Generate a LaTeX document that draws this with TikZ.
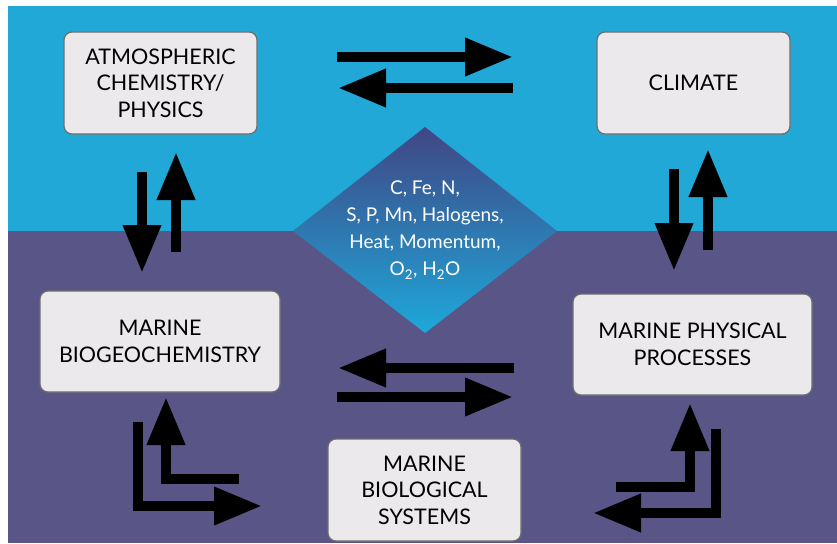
\documentclass[tikz,border=0pt]{standalone}
\usepackage{fontspec}
\setmainfont{Lato}
\usetikzlibrary{arrows.meta}
\definecolor{skyblue}{RGB}{33,168,214}
\definecolor{seapurple}{RGB}{89,86,135}
\definecolor{diamtop}{RGB}{64,70,132}
\definecolor{diambot}{RGB}{30,168,218}
\definecolor{boxfill}{RGB}{235,233,235}
\definecolor{boxline}{RGB}{110,110,110}
\tikzset{
  procbox/.style={draw=boxline, line width=1.2pt, fill=boxfill, rounded corners=8pt,
    align=center, inner sep=0pt, font=\fontsize{21.5}{26.5}\selectfont, text=black},
  bigarrow/.style={draw=black, line width=10pt, line join=miter,
    -{Triangle[length=48pt,width=36pt]}},
  flowtext/.style={align=center, text=white, font=\fontsize{19}{27}\selectfont}
}
\begin{document}
\begin{tikzpicture}[x=1pt,y=-1pt]
\useasboundingbox (0,0) rectangle (837,543);
\fill[white] (0,0) rectangle (837,543);
\fill[skyblue] (8,6) rectangle (837,231);
\fill[seapurple] (8,231) rectangle (837,543);
\shade[top color=diamtop, bottom color=diambot]
  (425,127) -- (557,231) -- (425,333) -- (293,231) -- cycle;
\node[flowtext] (flux) at (425,230) {C, Fe, N,\\S, P, Mn, Halogens,\\Heat, Momentum,\\O\textsubscript{2}, H\textsubscript{2}O};

\node[procbox, minimum width=193pt, minimum height=102pt] (atm) at (160.5,83) {ATMOSPHERIC\\CHEMISTRY/\\PHYSICS};
\node[procbox, minimum width=193pt, minimum height=102pt] (clim) at (693.5,83) {CLIMATE};
\node[procbox, minimum width=240pt, minimum height=101pt] (bgc) at (160,341.5) {MARINE\\BIOGEOCHEMISTRY};
\node[procbox, minimum width=239pt, minimum height=101pt] (phys) at (692.5,344.5) {MARINE PHYSICAL\\PROCESSES};
\node[procbox, minimum width=193pt, minimum height=102pt] (bio) at (424.5,490) {MARINE\\BIOLOGICAL\\SYSTEMS};

% arrow end points
\coordinate (ac1) at (337,57);  \coordinate (ca1) at (513,57);
\coordinate (ca2) at (513,88);  \coordinate (ac2) at (338,88);
\coordinate (ab1) at (142,172); \coordinate (ba1) at (142,273);
\coordinate (ba2) at (176,252); \coordinate (ab2) at (176,152);
\coordinate (cp1) at (674,169); \coordinate (pc1) at (674,271);
\coordinate (pc2) at (708,250); \coordinate (cp2) at (708,149);
\coordinate (pb1) at (514,368); \coordinate (bp1) at (338,368);
\coordinate (bp2) at (337,397); \coordinate (pb2) at (513,397);
\coordinate (bg1) at (138,422); \coordinate (bgk) at (138,506); \coordinate (bg2) at (262,506);
\coordinate (gb1) at (239,479); \coordinate (gbk) at (166,479); \coordinate (gb2) at (166,397);
\coordinate (pg1) at (716,429); \coordinate (pgk) at (716,513); \coordinate (pg2) at (593,513);
\coordinate (gp1) at (616,487); \coordinate (gpk) at (690,487); \coordinate (gp2) at (690,403);

\draw[bigarrow] (ac1) -- (ca1);
\draw[bigarrow] (ca2) -- (ac2);
\draw[bigarrow] (ab1) -- (ba1);
\draw[bigarrow] (ba2) -- (ab2);
\draw[bigarrow] (cp1) -- (pc1);
\draw[bigarrow] (pc2) -- (cp2);
\draw[bigarrow] (pb1) -- (bp1);
\draw[bigarrow] (bp2) -- (pb2);
\draw[bigarrow] (bg1) -- (bgk) -- (bg2);
\draw[bigarrow] (gb1) -- (gbk) -- (gb2);
\draw[bigarrow] (pg1) -- (pgk) -- (pg2);
\draw[bigarrow] (gp1) -- (gpk) -- (gp2);
\end{tikzpicture}
\end{document}
